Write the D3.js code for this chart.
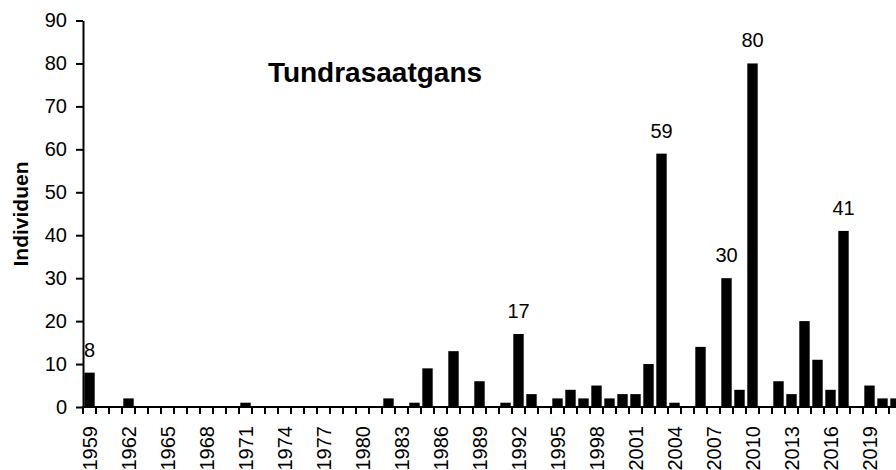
<!DOCTYPE html>
<html>
<head>
<meta charset="utf-8">
<script src="https://cdn.jsdelivr.net/npm/d3@7/dist/d3.min.js"></script>
<style>
  html, body { margin: 0; padding: 0; background: #fff; }
  svg { display: block; font-family: "Liberation Sans", Arial, sans-serif; }
</style>
</head>
<body>
<svg id="chart" width="896" height="470"></svg>
<script>
const years = d3.range(1959, 2022);
const values = [
  8, 0, 0, 2, 0, 0, 0, 0, 0, 0,      // 1959-1968
  0, 0, 1, 0, 0, 0, 0, 0, 0, 0,      // 1969-1978
  0, 0, 0, 2, 0, 1, 9, 0, 13, 0,     // 1979-1988
  6, 0, 1, 17, 3, 0, 2, 4, 2, 5,     // 1989-1998
  2, 3, 3, 10, 59, 1, 0, 14, 0, 30,  // 1999-2008
  4, 80, 0, 6, 3, 20, 11, 4, 41, 0,  // 2009-2018
  5, 2, 2                            // 2019-2021
];
const labelledYears = [1959, 1992, 2003, 2008, 2010, 2017];
const tickYears = d3.range(1959, 2022, 3);
const yTicks = d3.range(0, 91, 10);
const title = "Tundrasaatgans";
const yTitle = "Individuen";

const svg = d3.select("#chart");
const plotLeft = 83, plotBase = 407, plotTop = 20.5, step = 13.0;

const x = d3.scaleBand()
  .domain(years)
  .range([plotLeft, plotLeft + years.length * step])
  .paddingInner(0.2)
  .paddingOuter(0.1);

const y = d3.scaleLinear().domain([0, 90]).range([plotBase, plotTop]);

// bars
svg.append("g").selectAll("rect")
  .data(years.map((yr, i) => ({ yr, v: values[i] })))
  .join("rect")
  .attr("x", d => x(d.yr))
  .attr("width", x.bandwidth())
  .attr("y", d => y(d.v))
  .attr("height", d => plotBase - y(d.v))
  .attr("fill", "#000");

// value labels
svg.append("g").selectAll("text")
  .data(labelledYears)
  .join("text")
  .attr("x", d => x(d) + x.bandwidth() / 2)
  .attr("y", d => y(values[years.indexOf(d)]) - 16)
  .attr("text-anchor", "middle")
  .attr("font-size", 20)
  .attr("fill", "#000")
  .text(d => values[years.indexOf(d)]);

// y axis
const yAxis = d3.axisLeft(y).tickValues(yTicks).tickSize(7).tickPadding(9).tickSizeOuter(0);
const gy = svg.append("g").attr("transform", `translate(${plotLeft},0)`).call(yAxis);
gy.select(".domain").attr("stroke", "#000").attr("stroke-width", 2);
gy.selectAll(".tick line").attr("stroke", "#000").attr("stroke-width", 2);
gy.selectAll(".tick text").attr("font-size", 20).attr("font-family", "Liberation Sans, Arial, sans-serif").attr("fill", "#000");

// x axis line
svg.append("line")
  .attr("x1", plotLeft - 1).attr("x2", 896)
  .attr("y1", plotBase).attr("y2", plotBase)
  .attr("stroke", "#000").attr("stroke-width", 2);

// x tick marks at category boundaries
const off = x.step() * x.paddingOuter();
svg.append("g").selectAll("line")
  .data(years)
  .join("line")
  .attr("x1", d => x(d) - off).attr("x2", d => x(d) - off)
  .attr("y1", plotBase).attr("y2", plotBase + 7)
  .attr("stroke", "#000").attr("stroke-width", 2);

// x tick labels
svg.append("g").selectAll("text")
  .data(tickYears)
  .join("text")
  .attr("transform", d => `translate(${x(d) + x.bandwidth() / 2},${plotBase + 19}) rotate(-90)`)
  .attr("text-anchor", "end")
  .attr("dy", "0.36em")
  .attr("font-size", 20)
  .attr("fill", "#000")
  .text(d => d);

// title
svg.append("text")
  .attr("x", 375).attr("y", 82)
  .attr("text-anchor", "middle")
  .attr("font-size", 28)
  .attr("font-weight", "bold")
  .attr("fill", "#000")
  .text(title);

// y title
svg.append("text")
  .attr("transform", `translate(28,214) rotate(-90)`)
  .attr("text-anchor", "middle")
  .attr("font-size", 21)
  .attr("font-weight", "bold")
  .attr("fill", "#000")
  .text(yTitle);
</script>
</body>
</html>
